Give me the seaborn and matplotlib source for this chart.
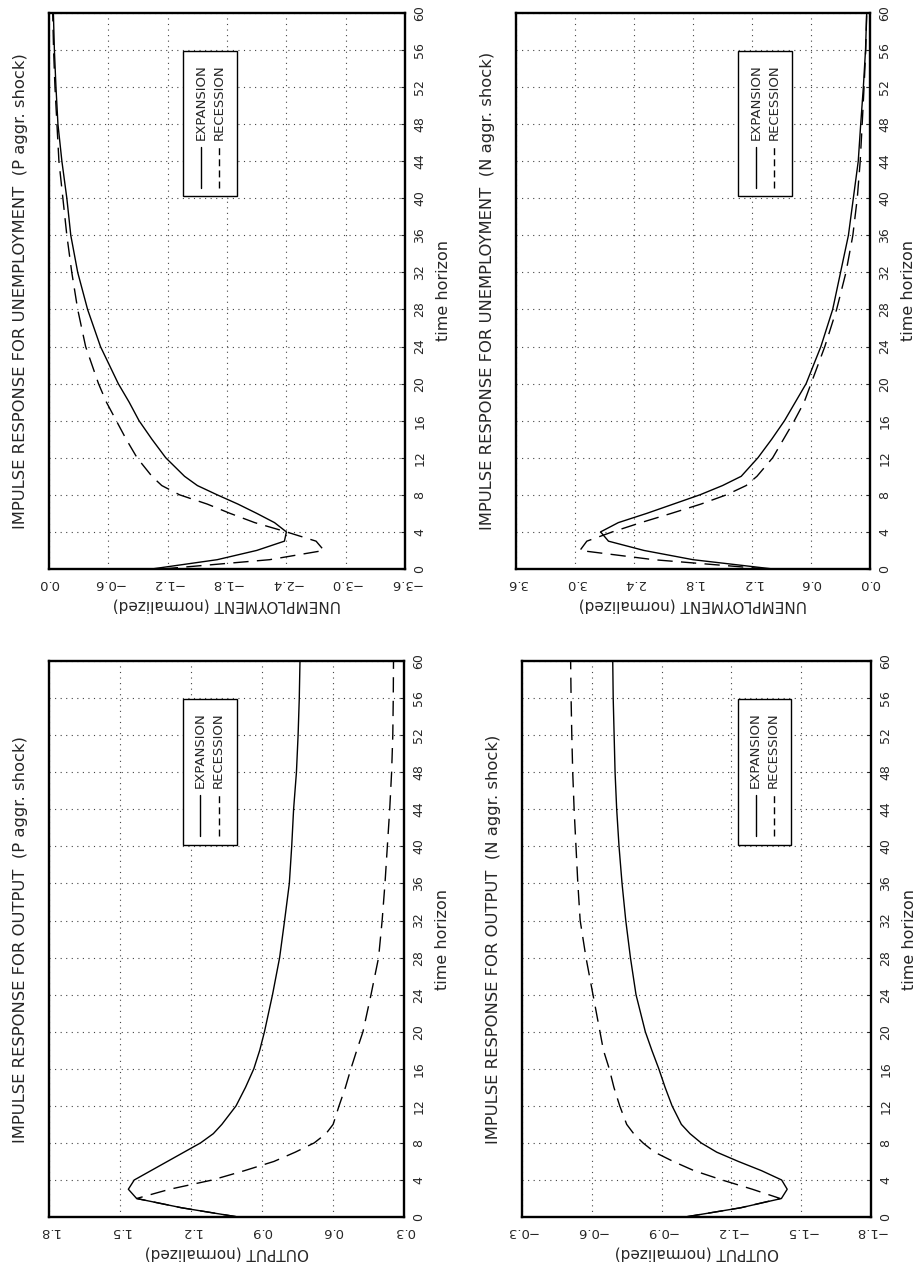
import matplotlib
matplotlib.use("Agg")
import numpy as np
import pandas as pd
import matplotlib.pyplot as plt
import matplotlib.patches as mpatches
import seaborn as sns

# time horizon (common for all panels)
horizon = [0, 1, 2, 3, 4, 5, 6, 7, 8, 9, 10, 12, 14, 16, 18, 20, 24, 28, 32, 36, 40, 44, 48, 52, 56, 60]

# unemployment, P aggr. shock
unemp_p_exp = [-1.04, -1.70, -2.10, -2.38, -2.40, -2.28, -2.10, -1.91, -1.70, -1.50, -1.37, -1.18, -1.04,
               -0.91, -0.81, -0.70, -0.52, -0.39, -0.29, -0.22, -0.18, -0.13, -0.09, -0.07, -0.054, -0.044]
unemp_p_rec = [-1.15, -2.23, -2.78, -2.70, -2.40, -2.08, -1.83, -1.60, -1.32, -1.14, -1.04, -0.89, -0.78,
               -0.68, -0.58, -0.50, -0.37, -0.29, -0.23, -0.18, -0.14, -0.10, -0.08, -0.06, -0.046, -0.037]

# unemployment, N aggr. shock
unemp_n_exp = [0.99, 1.80, 2.30, 2.66, 2.74, 2.56, 2.27, 2.00, 1.73, 1.50, 1.31, 1.14, 1.00,
               0.87, 0.76, 0.65, 0.50, 0.38, 0.30, 0.22, 0.17, 0.12, 0.095, 0.068, 0.046, 0.034]
unemp_n_rec = [1.05, 2.20, 2.95, 2.88, 2.62, 2.33, 2.02, 1.72, 1.46, 1.26, 1.15, 0.99, 0.88,
               0.77, 0.67, 0.60, 0.46, 0.34, 0.245, 0.175, 0.13, 0.10, 0.08, 0.061, 0.044, 0.034]

# output, P aggr. shock
output_p_exp = [1.00, 1.24, 1.43, 1.465, 1.44, 1.37, 1.30, 1.23, 1.16, 1.106, 1.07, 1.01, 0.97,
                0.935, 0.91, 0.89, 0.856, 0.826, 0.805, 0.785, 0.775, 0.767, 0.755, 0.748, 0.743, 0.74]
output_p_rec = [1.00, 1.24, 1.43, 1.29, 1.11, 0.975, 0.85, 0.76, 0.68, 0.63, 0.60, 0.575, 0.548,
                0.525, 0.50, 0.474, 0.44, 0.408, 0.393, 0.381, 0.371, 0.361, 0.353, 0.348, 0.346, 0.345]

# output, N aggr. shock
output_n_exp = [-1.00, -1.24, -1.415, -1.44, -1.416, -1.33, -1.23, -1.137, -1.07, -1.022, -0.985, -0.945, -0.915,
                -0.888, -0.858, -0.83, -0.79, -0.766, -0.746, -0.73, -0.717, -0.707, -0.70, -0.696, -0.692, -0.69]
output_n_rec = [-1.00, -1.24, -1.41, -1.29, -1.16, -1.04, -0.95, -0.87, -0.82, -0.78, -0.75, -0.72, -0.695,
                -0.675, -0.65, -0.635, -0.605, -0.575, -0.55, -0.54, -0.532, -0.524, -0.518, -0.514, -0.511, -0.509]

time_ticks = list(range(0, 61, 4))
unemp_p_ticks = [0.0, -0.6, -1.2, -1.8, -2.4, -3.0, -3.6]
unemp_p_labels = ["0.0", "\u22120.6", "\u22121.2", "\u22121.8", "\u22122.4", "\u22123.0", "\u22123.6"]
unemp_n_ticks = [3.6, 3.0, 2.4, 1.8, 1.2, 0.6, 0.0]
unemp_n_labels = ["3.6", "3.0", "2.4", "1.8", "1.2", "0.6", "0.0"]
output_p_ticks = [1.8, 1.5, 1.2, 0.9, 0.6, 0.3]
output_p_labels = ["1.8", "1.5", "1.2", "0.9", "0.6", "0.3"]
output_n_ticks = [-0.3, -0.6, -0.9, -1.2, -1.5, -1.8]
output_n_labels = ["\u22120.3", "\u22120.6", "\u22120.9", "\u22121.2", "\u22121.5", "\u22121.8"]

sns.set_style("white")
plt.rcParams["font.family"] = ["DejaVu Sans"]

fig = plt.figure(figsize=(9.2, 12.7), dpi=100)

panels = [
    ("IMPULSE RESPONSE FOR UNEMPLOYMENT  (P aggr. shock)", "UNEMPLOYMENT (normalized)",
     unemp_p_exp, unemp_p_rec, unemp_p_ticks, unemp_p_labels, [0.0533, 0.552, 0.387, 0.4378], 0.376),
    ("IMPULSE RESPONSE FOR UNEMPLOYMENT  (N aggr. shock)", "UNEMPLOYMENT (normalized)",
     unemp_n_exp, unemp_n_rec, unemp_n_ticks, unemp_n_labels, [0.5609, 0.552, 0.3848, 0.4378], 0.627),
    ("IMPULSE RESPONSE FOR OUTPUT  (P aggr. shock)", "OUTPUT (normalized)",
     output_p_exp, output_p_rec, output_p_ticks, output_p_labels, [0.0533, 0.0417, 0.386, 0.4378], 0.376),
    ("IMPULSE RESPONSE FOR OUTPUT  (N aggr. shock)", "OUTPUT (normalized)",
     output_n_exp, output_n_rec, output_n_ticks, output_n_labels, [0.5674, 0.0417, 0.3793, 0.4378], 0.619),
]

for title, xlab, exp_vals, rec_vals, xt, xtl, rect, leg_x in panels:
    ax = fig.add_axes(rect)
    df = pd.DataFrame({
        "value": exp_vals + rec_vals,
        "t": horizon + horizon,
        "regime": ["EXPANSION"] * len(horizon) + ["RECESSION"] * len(horizon),
    })
    sns.lineplot(data=df, x="value", y="t", hue="regime", style="regime",
                 palette={"EXPANSION": "black", "RECESSION": "black"},
                 dashes={"EXPANSION": "", "RECESSION": (11, 6)},
                 estimator=None, orient="y", linewidth=1.0, legend=False, ax=ax)

    ax.set_xlim(xt[0], xt[-1])
    ax.set_ylim(0, 60)
    ax.set_xticks(xt)
    ax.set_xticklabels(xtl)
    ax.set_yticks(time_ticks)
    ax.yaxis.tick_right()
    ax.yaxis.set_label_position("right")
    ax.tick_params(axis="x", labelrotation=180, labelsize=9.5, direction="in", length=3, pad=6)
    ax.tick_params(axis="y", labelrotation=90, labelsize=9, direction="in", length=3, pad=6)
    for lbl in ax.get_yticklabels():
        lbl.set_va("center")
    ax.grid(True, color="#444444", linestyle=(0, (1, 4)), linewidth=0.8)
    for sp in ax.spines.values():
        sp.set_linewidth(1.7)
        sp.set_color("black")

    ax.set_xlabel(xlab, rotation=180, fontsize=11, labelpad=5)
    ax.set_ylabel("time horizon", rotation=90, fontsize=11.5, labelpad=7)
    ax.text(-0.081, 0.5, title, rotation=90, transform=ax.transAxes,
            ha="center", va="center", fontsize=11.8)

    # legend box drawn upright to match the rotated page
    ax.add_patch(mpatches.Rectangle((leg_x, 0.67), 0.152, 0.262, transform=ax.transAxes,
                                    facecolor="white", edgecolor="black", linewidth=1.0, zorder=5))
    for k, (name, ls) in enumerate([("EXPANSION", "-"), ("RECESSION", (0, (5, 3)))]):
        lx = leg_x + 0.152 * (0.33 + 0.34 * k)
        ax.plot([lx, lx], [0.685, 0.759], transform=ax.transAxes, color="black",
                linestyle=ls, linewidth=1.0, zorder=6)
        ax.text(lx, 0.772, name, rotation=90, transform=ax.transAxes,
                ha="center", va="bottom", fontsize=9.5, zorder=6)

fig.savefig("out.png", dpi=100)
